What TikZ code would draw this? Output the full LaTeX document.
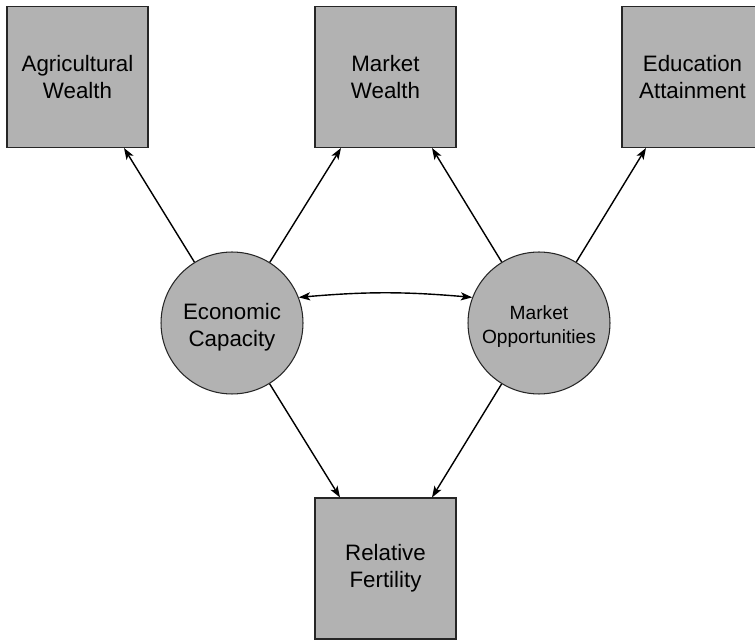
\documentclass[tikz,border=0pt]{standalone}
\usepackage{fontspec}
\setmainfont{Liberation Sans}
\usetikzlibrary{shapes.geometric, arrows.meta}
\definecolor{boxgray}{RGB}{178,178,178}
\tikzstyle{arrow} = [line width=0.8pt,->,>={Stealth[length=6.5pt,width=4.6pt,inset=1.6pt]}]
\tikzstyle{measure} = [rectangle, draw=black!85, line width=0.6pt, fill=boxgray, minimum width=2.82cm, minimum height=2.82cm, align=center, font=\fontsize{12.7}{15.3}\selectfont]
\tikzstyle{latent} = [circle, draw=black!85, line width=0.6pt, fill=boxgray, minimum size=2.84cm, inner sep=0pt, align=center, font=\fontsize{12.7}{15}\selectfont]

\begin{document}
\begin{tikzpicture}[x=0.02cm, y=0.02cm]
\useasboundingbox (0,0) rectangle (755,640);

% indicators
\node[measure] (agw) at (77.5,563) {Agricultural\\Wealth};
\node[measure] (mkw) at (385.5,563) {Market\\Wealth};
\node[measure] (edu) at (692.5,563) {Education\\Attainment};
\node[measure] (fert) at (385.5,71.5) {Relative\\Fertility};

% latent factors
\node[latent] (econ) at (232,317) {\raisebox{-2.4pt}[\height][\depth]{\shortstack{Economic\\[2.6pt]Capacity}}};
\node[latent, font=\fontsize{10.9}{13.6}\selectfont] (mopp) at (539,317) {\raisebox{-1.8pt}[\height][\depth]{\shortstack{Market\\[2.6pt]Opportunities}}};

\draw[arrow] (econ) -- ([xshift=0.93cm]agw.south);
\draw[arrow] (econ) -- ([xshift=-0.89cm]mkw.south);
\draw[arrow] (mopp) -- ([xshift=0.93cm]mkw.south);
\draw[arrow] (mopp) -- ([xshift=-0.93cm]edu.south);
\draw[arrow] (econ) -- ([xshift=-0.91cm]fert.north);
\draw[arrow] (mopp) -- ([xshift=0.93cm]fert.north);

\draw[arrow,<->] (econ.21) to[bend left=5] (mopp.159);
\end{tikzpicture}
\end{document}
